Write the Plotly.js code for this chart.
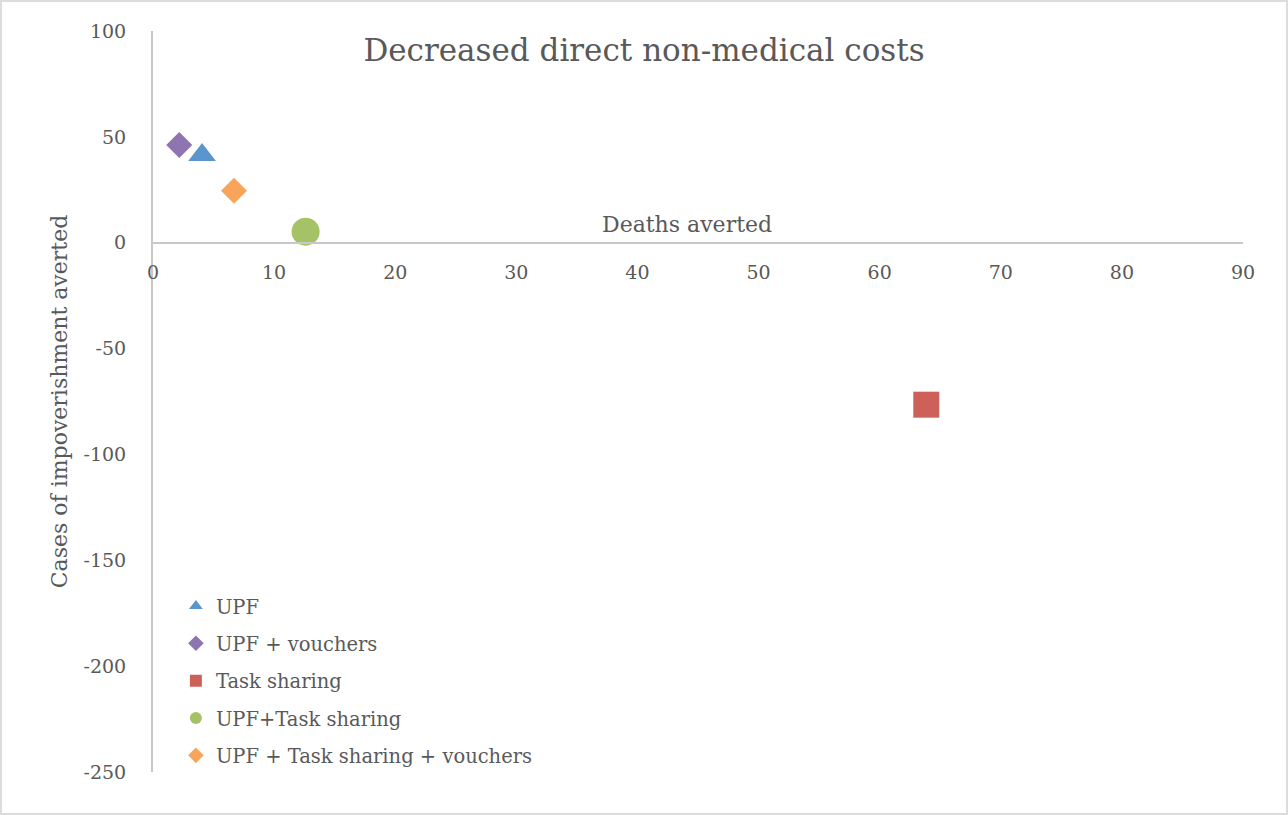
<!DOCTYPE html>
<html><head><meta charset="utf-8">
<script src="https://cdn.plot.ly/plotly-3.0.1.min.js"></script>
<style>
html,body{margin:0;padding:0;background:#fff}
#wrap{position:relative;width:1288px;height:815px}
#chart{width:1288px;height:815px}
#frame{position:absolute;left:0;top:0;width:1288px;height:815px;box-sizing:border-box;border:2px solid #dcdcdc;pointer-events:none}
</style>
</head><body>
<div id="wrap"><div id="chart"></div><div id="frame"></div></div>
<script>
const seriesNames = ["UPF", "UPF + vouchers", "Task sharing", "UPF+Task sharing", "UPF + Task sharing + vouchers"];
const deathsAverted = [4.05, 2.17, 63.85, 12.6, 6.69];
const impoverishmentAverted = [41.4, 46.1, -76.5, 5.2, 24.6];
const seriesColors = ["#5B95CD", "#8E74B0", "#CD615A", "#A6C267", "#F8A55B"];
const seriesSymbols = ["triangle-up", "diamond", "square", "circle", "diamond"];
const seriesSizes = [24, 20, 26, 28, 20];
const xTickValues = [0, 10, 20, 30, 40, 50, 60, 70, 80, 90];
const yTickValues = [100, 50, 0, -50, -100, -150, -200, -250];
const yTickLabels = ["100", "50", "0", "-50", "-100", "-150", "-200", "-250"];
const chartTitle = "Decreased direct non-medical costs";
const xTitle = "Deaths averted";
const yTitle = "Cases of impoverishment averted";

const textColor = "#595959";
const fontFamily = "DejaVu Serif, serif";

const traces = seriesNames.map((name, i) => ({
  type: "scatter",
  mode: "markers",
  name: name,
  legendgroup: "g" + i,
  x: [deathsAverted[i]],
  y: [impoverishmentAverted[i]],
  marker: { symbol: seriesSymbols[i], size: seriesSizes[i], color: seriesColors[i], line: { width: 0 } },
  hoverinfo: "x+y+name"
}));

const yMin = -250, yMax = 100;
const zeroFrac = (0 - yMin) / (yMax - yMin);

const layout = {
  width: 1288, height: 815,
  margin: { l: 153, r: 45, t: 31, b: 43 },
  paper_bgcolor: "#ffffff",
  plot_bgcolor: "#ffffff",
  font: { family: fontFamily, color: textColor, size: 19 },
  title: {
    text: chartTitle,
    font: { family: fontFamily, size: 31, color: textColor },
    x: 0.5, xref: "container", xanchor: "center",
    y: 1 - 50 / 815, yref: "container", yanchor: "middle"
  },
  xaxis: {
    range: [0, 90],
    tickvals: xTickValues,
    showgrid: false, zeroline: false,
    showline: true, linecolor: "#c8c8c8", linewidth: 2,
    anchor: "free", position: zeroFrac,
    ticks: "", ticklabelstandoff: 12,
    tickfont: { family: fontFamily, size: 19, color: textColor },
    fixedrange: true
  },
  yaxis: {
    range: [yMin, yMax],
    tickvals: yTickValues,
    ticktext: yTickLabels,
    showgrid: false, zeroline: false,
    showline: true, linecolor: "#c8c8c8", linewidth: 2,
    ticks: "", ticklabelstandoff: 21,
    tickfont: { family: fontFamily, size: 19, color: textColor },
    title: { text: yTitle, font: { family: fontFamily, size: 22, color: textColor }, standoff: 10 },
    automargin: false,
    fixedrange: true
  },
  annotations: [{
    text: xTitle, xref: "paper", yref: "y", x: 0.49, y: 0,
    xanchor: "center", yanchor: "bottom", yshift: 4, showarrow: false,
    font: { family: fontFamily, size: 22, color: textColor }
  }],
  showlegend: true,
  legend: {
    x: 0.021, xanchor: "left", y: 0.25, yanchor: "top",
    bgcolor: "rgba(0,0,0,0)",
    font: { family: fontFamily, size: 19.5, color: textColor },
    itemsizing: "constant", tracegroupgap: 9,
    traceorder: "grouped"
  }
};

Plotly.newPlot("chart", traces, layout, { displayModeBar: false, staticPlot: true });
</script>
</body></html>
